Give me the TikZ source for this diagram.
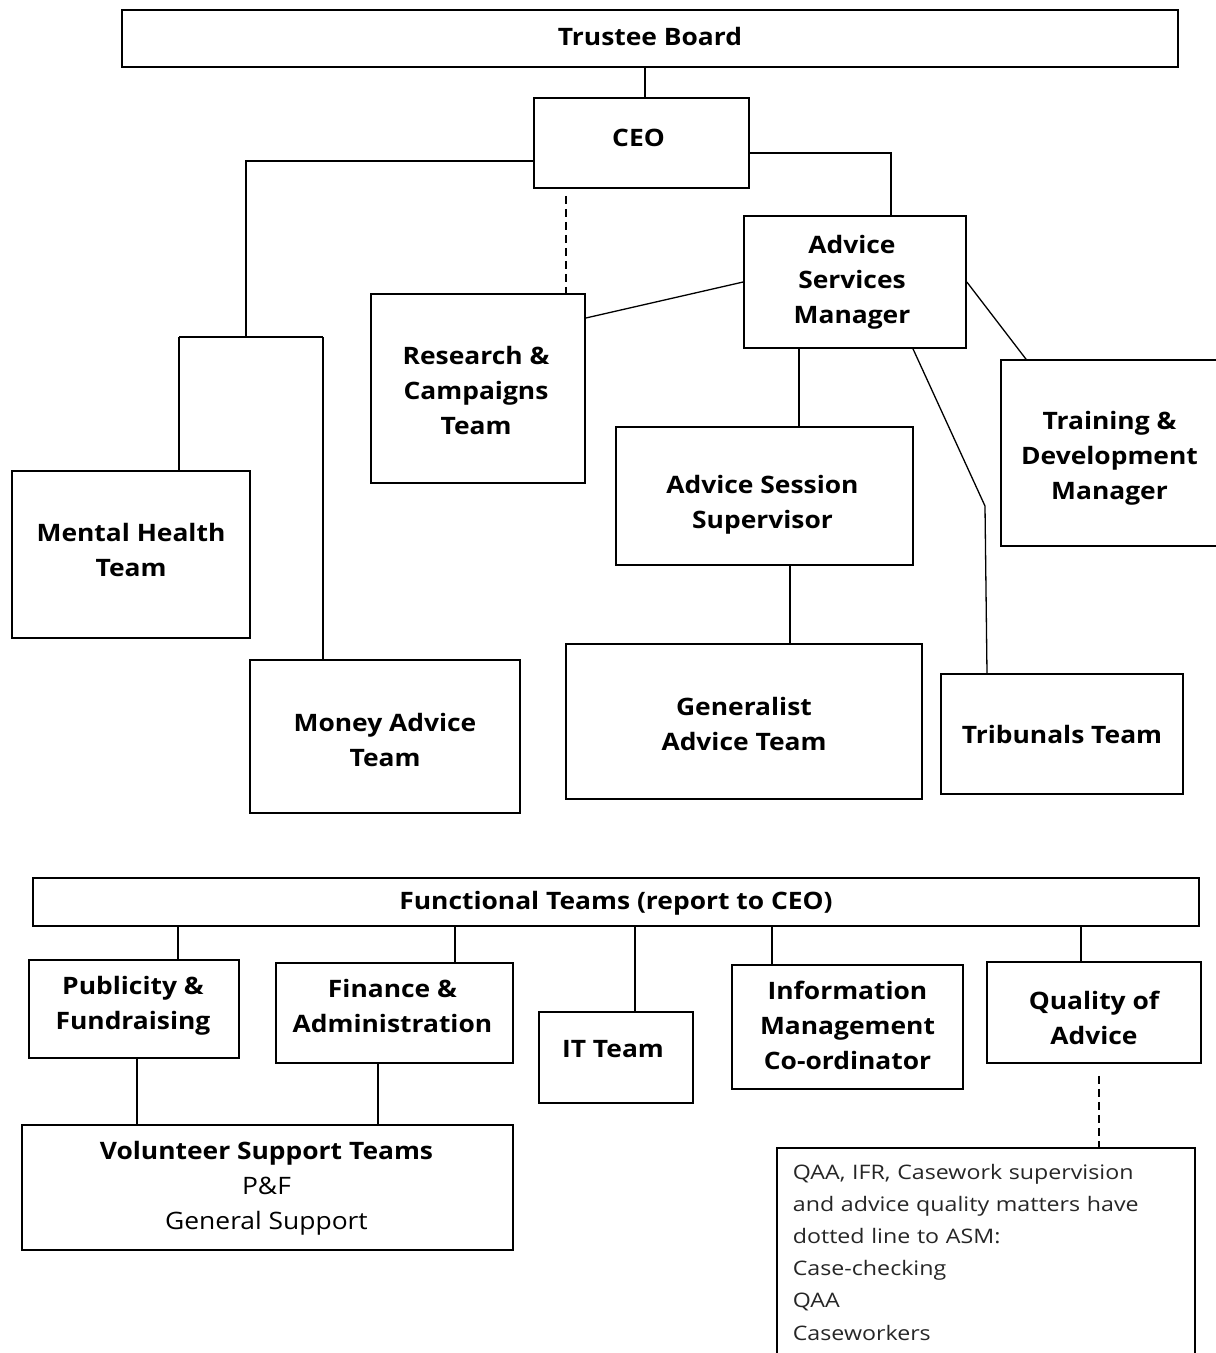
\documentclass[tikz,border=0pt]{standalone}
\usepackage{fontspec}
\setmainfont{Open Sans}
\newfontfamily\boxfont[FakeStretch=1.1]{Open Sans Bold}
\newfontfamily\boxfontmd[FakeStretch=1.1]{Open Sans}
\newfontfamily\notefont[FakeStretch=1.16]{Open Sans}
\begin{document}
\begin{tikzpicture}[x=1pt,y=-1pt,
  box/.style={draw=black, line width=1.7pt, inner sep=0pt},
  txt/.style={align=center, inner sep=0pt, text=black,
    font=\boxfont\fontsize{24}{35}\selectfont},
  conn/.style={draw=black, line width=1.3pt},
  dconn/.style={draw=black, line width=1.3pt, dash pattern=on 8pt off 5pt}]
\useasboundingbox (0,0) rectangle (1216,1353);
% top chart
\node[box, minimum width=1056, minimum height=57,
  label={[txt, yshift=2pt]center:Trustee Board}] (tb) at (650,38.5) {};
\node[box, minimum width=215, minimum height=90,
  label={[txt, yshift=5pt, xshift=-3pt]center:CEO}] (ceo) at (641.5,143) {};
\node[box, minimum width=222, minimum height=132,
  label={[txt, xshift=-3pt]center:Advice\\Services\\Manager}] (asm) at (855,282) {};
\node[box, minimum width=214, minimum height=189,
  label={[txt, yshift=-2pt, xshift=-2pt]center:Research \&\\Campaigns\\Team}] (rc) at (478,388.5) {};
\node[box, minimum width=217, minimum height=186,
  label={[txt, yshift=-5pt]center:Training \&\\Development\\Manager}] (tr) at (1109.5,453) {};
\node[box, minimum width=297, minimum height=138,
  label={[txt, yshift=-9pt, xshift=-2pt]center:Advice Session\\Supervisor}] (ass) at (764.5,496) {};
\node[box, minimum width=356, minimum height=155,
  label={[txt, yshift=-2pt]center:Generalist\\Advice Team}] (gen) at (744,721.5) {};
\node[box, minimum width=242, minimum height=120,
  label={[txt]center:Tribunals Team}] (trib) at (1062,734) {};
\node[box, minimum width=238, minimum height=167,
  label={[txt, yshift=5pt]center:Mental Health\\Team}] (mh) at (131,554.5) {};
\node[box, minimum width=270, minimum height=153,
  label={[txt, yshift=-3pt]center:Money Advice\\Team}] (ma) at (385,736.5) {};
% connectors top
\draw[conn] (645,0 |- tb.south) -- (645,0 |- ceo.north);
\coordinate (lj) at (246,337);
\draw[conn] (ceo.west |- 0,161) -- (246,161) -- (lj);
\draw[conn] (179,337) -- (323,337);
\draw[conn] (179,337) -- (179,0 |- mh.north);
\draw[conn] (323,337) -- (323,0 |- ma.north);
\draw[conn] (ceo.east |- 0,153) -- (891,153) -- (891,0 |- asm.north);
\draw[dconn] ([yshift=-7pt]ceo.south -| 566,0) -- (566,0 |- rc.north);
\draw[conn] (rc.east |- 0,318) -- (asm.west |- 0,282);
\draw[conn] (asm.east |- 0,282) -- (1026,0 |- tr.north);
\draw[conn] (799,0 |- asm.south) -- (799,0 |- ass.north);
\draw[conn] (790,0 |- ass.south) -- (790,0 |- gen.north);
\coordinate (tk) at (985,506);
\draw[conn] (913,0 |- asm.south) -- (tk) -- (987,0 |- trib.north);
% bottom chart
\node[box, minimum width=1166, minimum height=48,
  label={[txt, yshift=-1pt]center:Functional Teams (report to CEO)}] (ft) at (616,902) {};
\node[box, minimum width=210, minimum height=98,
  label={[txt, yshift=3pt, xshift=-1pt]center:Publicity \&\\Fundraising}] (pf) at (134,1009) {};
\node[box, minimum width=237, minimum height=100,
  label={[txt, yshift=7pt, xshift=-2pt]center:Finance \&\\Administration}] (fa) at (394.5,1013) {};
\node[box, minimum width=154, minimum height=91,
  label={[txt, yshift=8pt, xshift=-3pt]center:IT Team}] (it) at (616,1057.5) {};
\node[box, minimum width=231, minimum height=124,
  label={[txt, yshift=2pt]center:Information\\Management\\Co-ordinator}] (im) at (847.5,1027) {};
\node[box, minimum width=214, minimum height=101,
  label={[txt, yshift=-5pt]center:Quality of\\Advice}] (qa) at (1094,1012.5) {};
\node[box, minimum width=491, minimum height=125,
  label={[txt, yshift=-1pt, xshift=-1pt]center:Volunteer Support Teams\\{\boxfontmd P\&F}\\{\boxfontmd General Support}}] (vs) at (267.5,1187.5) {};
\node[draw=black, line width=1.7pt, anchor=north west, text width=386pt, align=left,
  inner xsep=16pt, inner ysep=16pt, font=\notefont\fontsize{20}{32.2}\selectfont, text=black!85]
  (note) at (776,1147) {QAA, IFR, Casework supervision\\and advice quality matters have\\dotted line to ASM:\\Case-checking\\QAA\\Caseworkers\\ };
\draw[conn] (178,0 |- ft.south) -- (178,0 |- pf.north);
\draw[conn] (455,0 |- ft.south) -- (455,0 |- fa.north);
\draw[conn] (635,0 |- ft.south) -- (635,0 |- it.north);
\draw[conn] (772,0 |- ft.south) -- (772,0 |- im.north);
\draw[conn] (1081,0 |- ft.south) -- (1081,0 |- qa.north);
\draw[conn] (137,0 |- pf.south) -- (137,0 |- vs.north);
\draw[conn] (378,0 |- fa.south) -- (378,0 |- vs.north);
\draw[dconn] ([yshift=-12pt]qa.south -| 1099,0) -- (1099,0 |- note.north);
\end{tikzpicture}
\end{document}
